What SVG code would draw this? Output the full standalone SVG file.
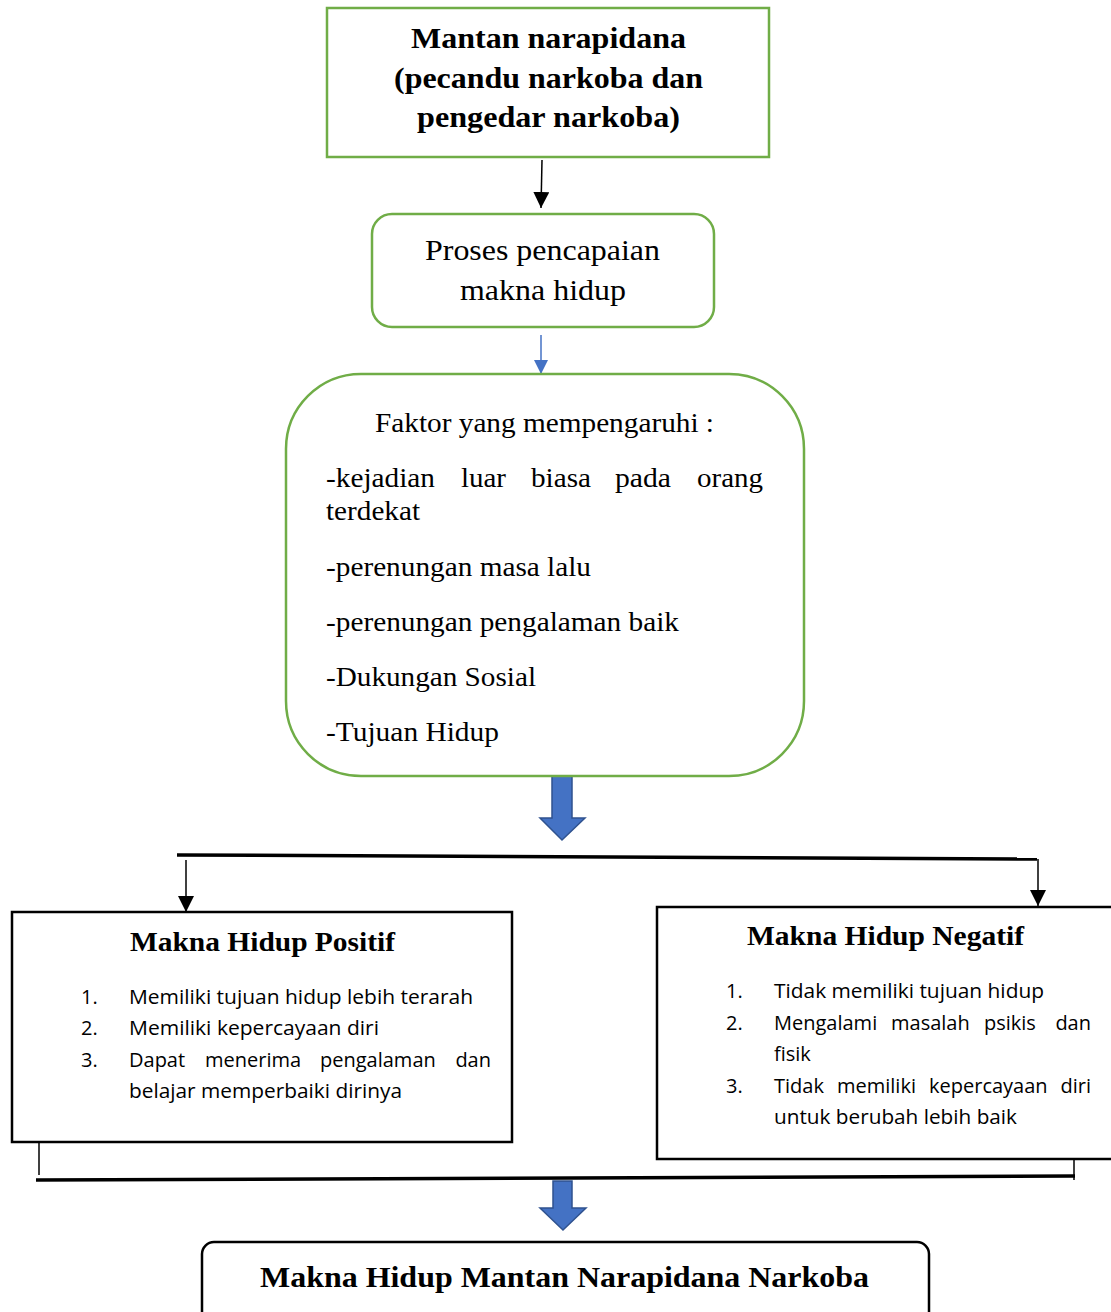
<svg xmlns="http://www.w3.org/2000/svg" width="1111" height="1312" viewBox="0 0 1111 1312">
<style>
.g{fill:#fff;stroke:#70AD47;stroke-width:2.5}
.k{fill:#fff;stroke:#000;stroke-width:2.5}
.tb{font-family:"Liberation Serif","Times New Roman",serif;font-weight:bold;fill:#000}
.tr{font-family:"Liberation Serif","Times New Roman",serif;fill:#000}
.ts{font-family:"Open Sans","Liberation Sans",sans-serif;font-size:20px;fill:#000}
.ln{stroke:#000;fill:none}
.blk{fill:#4472C4;stroke:#2F528F;stroke-width:1.5}
</style>
<defs>
<marker id="ah" viewBox="0 0 10 10" refX="10" refY="5" markerWidth="16" markerHeight="16" markerUnits="userSpaceOnUse" orient="auto"><path d="M0,0 L10,5 L0,10 z" fill="#000"/></marker>
<marker id="ahb" viewBox="0 0 10 10" refX="10" refY="5" markerWidth="14" markerHeight="14" markerUnits="userSpaceOnUse" orient="auto"><path d="M0,0 L10,5 L0,10 z" fill="#4472C4"/></marker>
</defs>
<rect width="1111" height="1312" fill="#fff"/>

<g id="connectors">
<line class="ln" x1="542" y1="160" x2="541" y2="208" stroke-width="1.5" marker-end="url(#ah)"/>
<line x1="541" y1="335" x2="541" y2="374" stroke="#4472C4" stroke-width="1.5" marker-end="url(#ahb)"/>
<path class="blk" d="M552,776 H572 V818 H585 L562,840 L540,818 H552 Z"/>
<line class="ln" x1="177" y1="855" x2="1037" y2="859" stroke-width="3.5"/>
<line class="ln" x1="186" y1="860" x2="186" y2="912" stroke-width="1.5" marker-end="url(#ah)"/>
<line class="ln" x1="1038" y1="859" x2="1038" y2="906" stroke-width="1.5" marker-end="url(#ah)"/>
<line class="ln" x1="39" y1="1143" x2="39" y2="1175" stroke-width="1.5"/>
<line class="ln" x1="36" y1="1180" x2="1075" y2="1176" stroke-width="3.5"/>
<line class="ln" x1="1074" y1="1150" x2="1074" y2="1180" stroke-width="1.5"/>
<path class="blk" d="M553,1181 H572 V1208 H586 L563,1230 L540,1208 H553 Z"/>
</g>

<g id="node-mantan">
<rect class="g" x="327" y="8" width="442" height="149"/>
<text class="tb" font-size="30" x="411" y="48" textLength="275" lengthAdjust="spacingAndGlyphs">Mantan narapidana</text>
<text class="tb" font-size="30" x="394" y="88" textLength="309" lengthAdjust="spacingAndGlyphs">(pecandu narkoba dan</text>
<text class="tb" font-size="30" x="417" y="127" textLength="263" lengthAdjust="spacingAndGlyphs">pengedar narkoba)</text>
</g>

<g id="node-proses">
<rect class="g" x="372" y="214" width="342" height="113" rx="20"/>
<text class="tr" font-size="30" x="425" y="260" textLength="235" lengthAdjust="spacingAndGlyphs">Proses pencapaian</text>
<text class="tr" font-size="30" x="460" y="300" textLength="166" lengthAdjust="spacingAndGlyphs">makna hidup</text>
</g>

<g id="node-faktor">
<rect class="g" x="286" y="374" width="518" height="402" rx="75"/>
<text class="tr" font-size="28" x="375" y="432" textLength="339" lengthAdjust="spacingAndGlyphs">Faktor yang mempengaruhi :</text>
<text class="tr" font-size="28" x="326" y="487" textLength="109" lengthAdjust="spacingAndGlyphs">-kejadian</text>
<text class="tr" font-size="28" x="461" y="487" textLength="45" lengthAdjust="spacingAndGlyphs">luar</text>
<text class="tr" font-size="28" x="531" y="487" textLength="60" lengthAdjust="spacingAndGlyphs">biasa</text>
<text class="tr" font-size="28" x="615" y="487" textLength="56" lengthAdjust="spacingAndGlyphs">pada</text>
<text class="tr" font-size="28" x="697" y="487" textLength="66" lengthAdjust="spacingAndGlyphs">orang</text>
<text class="tr" font-size="28" x="326" y="520" textLength="94" lengthAdjust="spacingAndGlyphs">terdekat</text>
<text class="tr" font-size="28" x="326" y="576" textLength="265" lengthAdjust="spacingAndGlyphs">-perenungan masa lalu</text>
<text class="tr" font-size="28" x="326" y="631" textLength="353" lengthAdjust="spacingAndGlyphs">-perenungan pengalaman baik</text>
<text class="tr" font-size="28" x="326" y="686" textLength="210" lengthAdjust="spacingAndGlyphs">-Dukungan Sosial</text>
<text class="tr" font-size="28" x="326" y="741" textLength="173" lengthAdjust="spacingAndGlyphs">-Tujuan Hidup</text>
</g>

<g id="node-positif">
<rect class="k" x="12" y="912" width="500" height="230"/>
<text class="tb" font-size="28" x="130" y="951" textLength="265" lengthAdjust="spacingAndGlyphs">Makna Hidup Positif</text>
<text class="ts" x="81" y="1004">1.</text>
<text class="ts" x="129" y="1004" textLength="344" lengthAdjust="spacingAndGlyphs">Memiliki tujuan hidup lebih terarah</text>
<text class="ts" x="81" y="1035">2.</text>
<text class="ts" x="129" y="1035" textLength="250" lengthAdjust="spacingAndGlyphs">Memiliki kepercayaan diri</text>
<text class="ts" x="81" y="1067">3.</text>
<text class="ts" x="129" y="1067">Dapat</text>
<text class="ts" x="205" y="1067">menerima</text>
<text class="ts" x="320" y="1067">pengalaman</text>
<text class="ts" x="491" y="1067" text-anchor="end">dan</text>
<text class="ts" x="129" y="1098" textLength="273" lengthAdjust="spacingAndGlyphs">belajar memperbaiki dirinya</text>
</g>

<g id="node-negatif">
<rect class="k" x="657" y="907" width="460" height="252"/>
<text class="tb" font-size="28" x="747" y="945" textLength="277" lengthAdjust="spacingAndGlyphs">Makna Hidup Negatif</text>
<text class="ts" x="726" y="998">1.</text>
<text class="ts" x="774" y="998" textLength="270" lengthAdjust="spacingAndGlyphs">Tidak memiliki tujuan hidup</text>
<text class="ts" x="726" y="1030">2.</text>
<text class="ts" x="774" y="1030">Mengalami</text>
<text class="ts" x="891" y="1030">masalah</text>
<text class="ts" x="984" y="1030">psikis</text>
<text class="ts" x="1091" y="1030" text-anchor="end">dan</text>
<text class="ts" x="774" y="1061">fisik</text>
<text class="ts" x="726" y="1093">3.</text>
<text class="ts" x="774" y="1093">Tidak</text>
<text class="ts" x="837" y="1093">memiliki</text>
<text class="ts" x="929" y="1093">kepercayaan</text>
<text class="ts" x="1091" y="1093" text-anchor="end">diri</text>
<text class="ts" x="774" y="1124" textLength="243" lengthAdjust="spacingAndGlyphs">untuk berubah lebih baik</text>
</g>

<g id="node-akhir">
<rect class="k" x="202" y="1242" width="727" height="90" rx="12"/>
<text class="tb" font-size="30" x="260" y="1287" textLength="609" lengthAdjust="spacingAndGlyphs">Makna Hidup Mantan Narapidana Narkoba</text>
</g>
</svg>
